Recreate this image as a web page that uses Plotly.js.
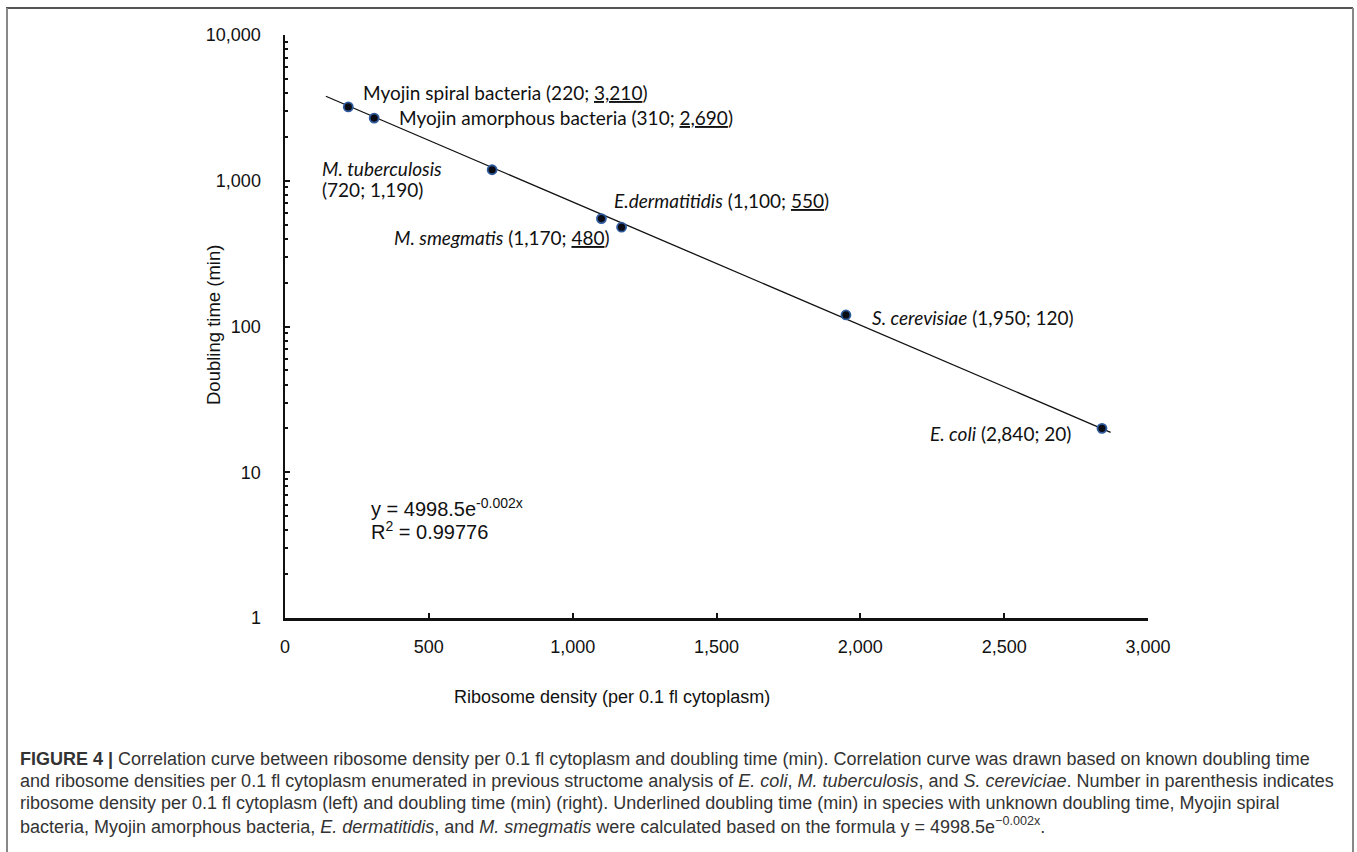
<!DOCTYPE html>
<html>
<head>
<meta charset="utf-8">
<script src="https://cdn.plot.ly/plotly-3.0.1.min.js"></script>
<style>
  html, body { margin: 0; padding: 0; background: #fff; }
  #chart { width: 1357px; height: 852px; }
</style>
</head>
<body>
<div id="chart"></div>
<script>
// ---- data ----
const speciesNames = ["Myojin spiral bacteria", "Myojin amorphous bacteria", "M. tuberculosis",
                      "E.dermatitidis", "M. smegmatis", "S. cerevisiae", "E. coli"];
const ribosomeDensity = [220, 310, 720, 1100, 1170, 1950, 2840];
const doublingTime = [3210, 2690, 1190, 550, 480, 120, 20];
const trendX = [142, 2870];
const trendY = [3800, 18.8];
const xTickVals = [0, 500, 1000, 1500, 2000, 2500, 3000];

// ---- layout helpers (pixel -> paper) ----
const L = 285, R = 1148, T = 35, B = 618;
const px = p => (p - L) / (R - L);
const py = p => (B - p) / (B - T);

const labelFont = { family: "Lato, 'Open Sans', sans-serif", size: 19, color: "#111" };
const arial = "Liberation Sans, Arial, sans-serif";

function lab(text, x, y) {
  return { text: text, xref: "paper", yref: "paper", x: px(x), y: py(y),
           xanchor: "left", yanchor: "middle", showarrow: false, font: labelFont };
}
function cap(text, y) {
  return { text: text, xref: "paper", yref: "paper", x: px(18), y: py(y),
           xanchor: "left", yanchor: "middle", showarrow: false,
           font: { family: arial, size: 18, color: "#333" } };
}

const annotations = [
  lab("Myojin spiral bacteria (220; <u>3,210</u>)", 361, 92),
  lab("Myojin amorphous bacteria (310; <u>2,690</u>)", 397, 117),
  lab("<i>M. tuberculosis</i>", 320, 168),
  lab("(720; 1,190)", 320, 190),
  lab("<i>E.dermatitidis</i> (1,100; <u>550</u>)", 612, 200),
  lab("<i>M. smegmatis</i> (1,170; <u>480</u>)", 392, 237),
  lab("<i>S. cerevisiae</i> (1,950; 120)", 870, 317),
  lab("<i>E. coli</i> (2,840; 20)", 928, 433),
  { text: "y = 4998.5e<sup>-0.002x</sup>", xref: "paper", yref: "paper", x: px(369), y: py(507),
    xanchor: "left", yanchor: "middle", showarrow: false, font: { family: arial, size: 20, color: "#111" } },
  { text: "R<sup>2</sup> = 0.99776", xref: "paper", yref: "paper", x: px(369), y: py(530),
    xanchor: "left", yanchor: "middle", showarrow: false, font: { family: arial, size: 20, color: "#111" } },
  { text: "Doubling time (min)", xref: "paper", yref: "paper", x: px(213), y: py(325),
    xanchor: "center", yanchor: "middle", textangle: -90, showarrow: false,
    font: { family: arial, size: 18.5, color: "#111" } },
  { text: "Ribosome density (per 0.1 fl cytoplasm)", xref: "paper", yref: "paper", x: px(612), y: py(697),
    xanchor: "center", yanchor: "middle", showarrow: false, font: { family: arial, size: 18, color: "#111" } },
  cap("<b>FIGURE 4 |</b> Correlation curve between ribosome density per 0.1 fl cytoplasm and doubling time (min). Correlation curve was drawn based on known doubling time", 759),
  cap("and ribosome densities per 0.1 fl cytoplasm enumerated in previous structome analysis of <i>E. coli</i>, <i>M. tuberculosis</i>, and <i>S. cereviciae</i>. Number in parenthesis indicates", 781),
  cap("ribosome density per 0.1 fl cytoplasm (left) and doubling time (min) (right). Underlined doubling time (min) in species with unknown doubling time, Myojin spiral", 803),
  cap("bacteria, Myojin amorphous bacteria, <i>E. dermatitidis</i>, and <i>M. smegmatis</i> were calculated based on the formula y = 4998.5e<sup>−0.002x</sup>.", 825)
];

const shapes = [
  { type: "line", xref: "paper", yref: "paper", x0: px(6), x1: px(1353), y0: py(8), y1: py(8),
    line: { color: "#555", width: 2 } },
  { type: "line", xref: "paper", yref: "paper", x0: px(7), x1: px(7), y0: py(8), y1: py(860),
    line: { color: "#888", width: 2 } },
  { type: "line", xref: "paper", yref: "paper", x0: px(1353), x1: px(1353), y0: py(8), y1: py(860),
    line: { color: "#888", width: 2 } }
];

const traces = [
  { x: trendX, y: trendY, type: "scatter", mode: "lines",
    line: { color: "#111", width: 1.3 }, hoverinfo: "skip", showlegend: false },
  { x: ribosomeDensity, y: doublingTime, text: speciesNames, type: "scatter", mode: "markers",
    marker: { size: 9, color: "#0b0b14", line: { color: "#2f5b9e", width: 1.8 } },
    showlegend: false, cliponaxis: false }
];

const layout = {
  width: 1357, height: 852,
  margin: { l: L, r: 1357 - R, t: T, b: 852 - B, pad: 0 },
  paper_bgcolor: "#fff", plot_bgcolor: "#fff",
  showlegend: false,
  xaxis: {
    range: [0, 3000], tickvals: xTickVals, tickformat: ",",
    showline: true, linecolor: "#111", linewidth: 2.5, showgrid: false, zeroline: false,
    ticks: "inside", ticklen: 5, tickwidth: 2, tickcolor: "#111",
    ticklabelstandoff: 11,
    tickfont: { family: arial, size: 18, color: "#111" }
  },
  yaxis: {
    type: "log", range: [0, 4], dtick: 1, tickformat: ",",
    showline: true, linecolor: "#111", linewidth: 2.5, showgrid: false, zeroline: false,
    ticks: "inside", ticklen: 5, tickwidth: 2, tickcolor: "#111",
    ticklabelstandoff: 18,
    tickfont: { family: arial, size: 18, color: "#111" },
    minor: { ticks: "inside", ticklen: 3, tickwidth: 2, tickcolor: "#111", showgrid: false }
  },
  annotations: annotations,
  shapes: shapes
};

Plotly.newPlot("chart", traces, layout, { staticPlot: true, displayModeBar: false });
</script>
</body>
</html>
